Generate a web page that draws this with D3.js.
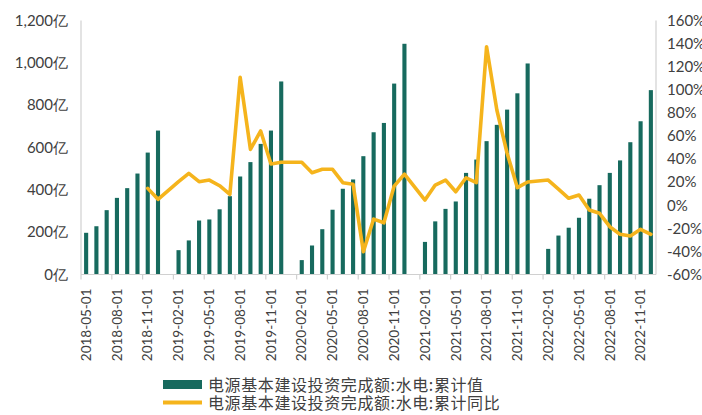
<!DOCTYPE html>
<html><head><meta charset="utf-8">
<script src="https://cdn.jsdelivr.net/npm/d3@7"></script>
<style>
body{margin:0;background:#fff;}
svg{display:block;}
</style></head>
<body><svg id="c" width="702" height="415"></svg>
<script>
const months = [
"2018-05-01","2018-06-01","2018-07-01","2018-08-01","2018-09-01","2018-10-01","2018-11-01","2018-12-01",
"2019-01-01","2019-02-01","2019-03-01","2019-04-01","2019-05-01","2019-06-01","2019-07-01","2019-08-01","2019-09-01","2019-10-01","2019-11-01","2019-12-01",
"2020-01-01","2020-02-01","2020-03-01","2020-04-01","2020-05-01","2020-06-01","2020-07-01","2020-08-01","2020-09-01","2020-10-01","2020-11-01","2020-12-01",
"2021-01-01","2021-02-01","2021-03-01","2021-04-01","2021-05-01","2021-06-01","2021-07-01","2021-08-01","2021-09-01","2021-10-01","2021-11-01","2021-12-01",
"2022-01-01","2022-02-01","2022-03-01","2022-04-01","2022-05-01","2022-06-01","2022-07-01","2022-08-01","2022-09-01","2022-10-01","2022-11-01","2022-12-01"];
const cumValue = [
197,228,304,362,408,477,576,680,
null,115,161,255,260,308,370,463,531,617,680,912,
null,68,137,214,306,405,449,559,672,716,902,1090,
null,154,251,310,345,480,543,630,707,779,856,997,
null,121,184,221,268,358,422,480,539,625,724,871];
const cumYoY = [
null,null,null,null,null,null,14.6,5.1,
null,20.4,27.6,20.4,21.8,16.9,9.4,110.8,48.4,64.3,35.7,37.2,
null,37.2,28.2,31.1,31.1,19.5,18.1,-40.3,-12,-15.2,16.6,27,
null,4.5,17.5,21.8,11.7,23.8,19.5,137.3,82.5,45,15.2,20.1,
null,21.8,14,6,8.8,-4.2,-7,-18.6,-25.2,-26.7,-20.9,-25.2];
const leftTicks = [0,200,400,600,800,1000,1200];
const rightTicks = [-60,-40,-20,0,20,40,60,80,100,120,140,160];
const labelMonths = months.filter((d,i)=>i%3===0);
const seriesNames = ["电源基本建设投资完成额:水电:累计值","电源基本建设投资完成额:水电:累计同比"];

const barColor = "#176a5e", lineColor = "#f5b41c", axisColor = "#d0d0d0", textColor = "#404040";
const L = 81, R = 656, T = 20.5, B = 274.5;
const svg = d3.select("#c");
const font = "Lato, 'Open Sans', sans-serif";

const x = d3.scaleBand().domain(months).range([L,R]).paddingInner(0.6).paddingOuter(0.3);
const yL = d3.scaleLinear().domain([0,1200]).range([B,T]);
const yR = d3.scaleLinear().domain([-60,160]).range([B,T]);

// axis lines
svg.append("line").attr("x1",L).attr("x2",L).attr("y1",T).attr("y2",B).attr("stroke",axisColor).attr("stroke-width",1.2);
svg.append("line").attr("x1",R).attr("x2",R).attr("y1",T).attr("y2",B).attr("stroke",axisColor).attr("stroke-width",1.2);

// left axis labels
const gl = svg.append("g").attr("transform",`translate(${L},0)`)
  .call(d3.axisLeft(yL).tickValues(leftTicks).tickSize(0).tickPadding(13).tickFormat(d=>d3.format(",")(d)+"亿"));
gl.select(".domain").remove();
gl.selectAll("text").attr("font-family",font).attr("font-size",15).attr("fill",textColor);

// right axis labels
const gr = svg.append("g").attr("transform",`translate(${R},0)`)
  .call(d3.axisRight(yR).tickValues(rightTicks).tickSize(0).tickPadding(11).tickFormat(d=>d+"%"));
gr.select(".domain").remove();
gr.selectAll("text").attr("font-family",font).attr("font-size",15).attr("fill",textColor);

// bars
svg.append("g").selectAll("rect").data(months.map((m,i)=>({m,v:cumValue[i]})).filter(d=>d.v!=null))
  .enter().append("rect")
  .attr("x",d=>x(d.m)).attr("width",x.bandwidth())
  .attr("y",d=>yL(d.v)).attr("height",d=>yL(0)-yL(d.v))
  .attr("fill",barColor);

// bottom axis
svg.append("line").attr("x1",L).attr("x2",R).attr("y1",B).attr("y2",B).attr("stroke",axisColor).attr("stroke-width",1.2);
svg.append("g").selectAll("line").data(labelMonths).enter().append("line")
  .attr("x1",d=>x(d)-x.step()*0.3).attr("x2",d=>x(d)-x.step()*0.3)
  .attr("y1",B).attr("y2",B+5).attr("stroke",axisColor).attr("stroke-width",1.2);
const gx = svg.append("g").attr("transform",`translate(0,${B})`)
  .call(d3.axisBottom(x).tickValues(labelMonths).tickSize(0));
gx.select(".domain").remove();
gx.selectAll("text").attr("font-family",font).attr("font-size",13.5).attr("fill",textColor)
  .attr("text-anchor","end").attr("transform","translate(0,14) rotate(-90)")
  .attr("x",0).attr("y",0).attr("dy","0.35em");

// line
const pts = months.map((m,i)=>({m,v:cumYoY[i]})).filter(d=>d.v!=null);
svg.append("path").datum(pts)
  .attr("d",d3.line().x(d=>x(d.m)+x.bandwidth()/2).y(d=>yR(d.v)))
  .attr("fill","none").attr("stroke",lineColor).attr("stroke-width",3.6)
  .attr("stroke-linejoin","round").attr("stroke-linecap","round");

// legend
const lg = svg.append("g");
lg.append("rect").attr("x",163).attr("y",380).attr("width",39).attr("height",9).attr("fill",barColor);
lg.append("line").attr("x1",163).attr("x2",202).attr("y1",402.5).attr("y2",402.5).attr("stroke",lineColor).attr("stroke-width",4);
lg.selectAll("text").data(seriesNames).enter().append("text")
  .attr("x",208).attr("y",(d,i)=>385+i*18).attr("dy","0.35em")
  .attr("font-family","'Noto Sans CJK SC', sans-serif").attr("font-size",16).attr("letter-spacing",0.6).attr("fill",textColor)
  .text(d=>d);
</script></body></html>
